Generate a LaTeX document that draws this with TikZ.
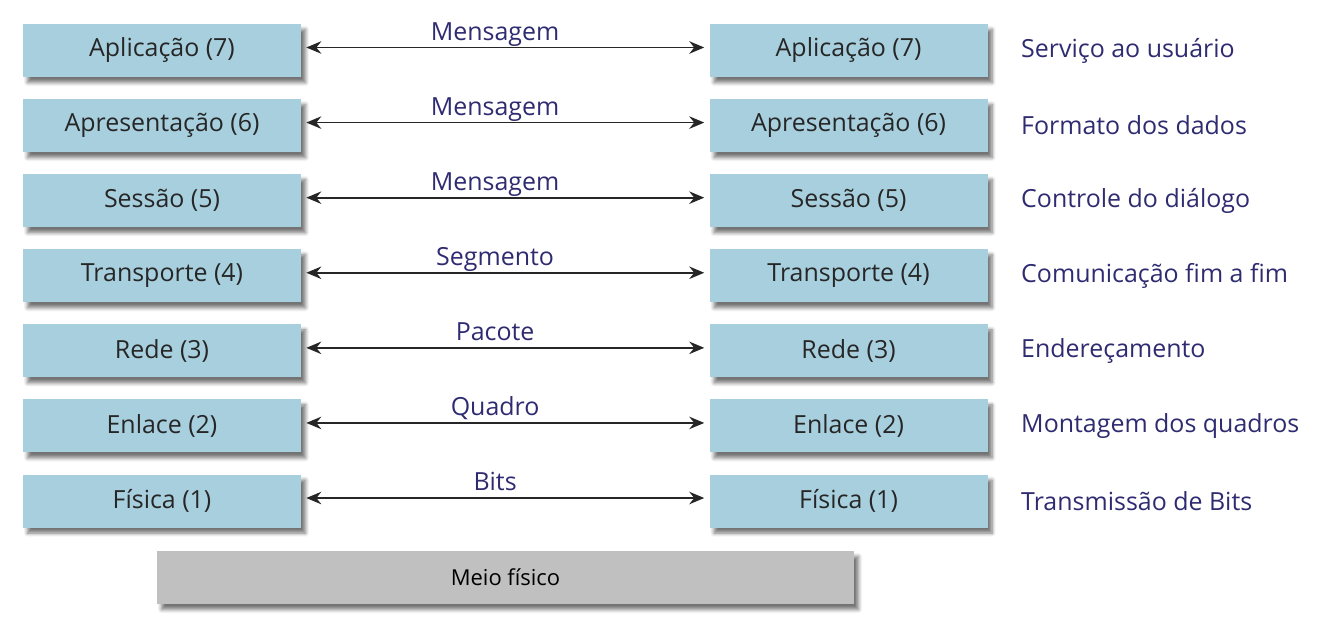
\documentclass[tikz,border=0pt]{standalone}
\usepackage{fontspec}
\setmainfont{Open Sans}
\usetikzlibrary{arrows.meta}
\usetikzlibrary{positioning}
\usetikzlibrary{shadows.blur}
\definecolor{layerblue}{RGB}{168,207,222}
\definecolor{labelblue}{RGB}{46,43,112}
\definecolor{layertext}{RGB}{38,38,38}
\definecolor{meiogray}{RGB}{192,192,192}
\tikzset{
  layer/.style={
    fill=layerblue, text=layertext,
    minimum width=5.56cm, minimum height=1.06cm, inner sep=0,
    font=\fontsize{14.2}{16}\selectfont,
    blur shadow={shadow xshift=0.09cm, shadow yshift=-0.11cm,
      shadow opacity=55, shadow blur steps=6}
  },
  meio/.style={layer, fill=meiogray, text=black,
    minimum width=13.94cm, font=\fontsize{12.5}{14}\selectfont},
  role/.style={anchor=west, inner sep=0, text=labelblue,
    font=\fontsize{14.2}{16}\selectfont},
  pdu/.style={above, inner sep=1pt, pos=0.475, text=labelblue,
    text depth=0.25em, font=\fontsize{14.2}{16}\selectfont},
  arrow/.style={<->, >={Stealth[length=0.3cm, width=0.25cm, inset=0.1cm]},
    line width=1pt, draw=black!85, shorten >=1mm, shorten <=1mm},
  node distance=0.428cm
}
\begin{document}
\begin{tikzpicture}[x=0.02cm, y=-0.02cm]
  \useasboundingbox (0,0) rectangle (1319,638);

  % host A
  \node[layer] (apA) at (162,50.5) {Aplicação (7)};
  \node[layer, below=of apA] (prA) {Apresentação (6)};
  \node[layer, below=of prA] (seA) {Sessão (5)};
  \node[layer, below=of seA] (trA) {Transporte (4)};
  \node[layer, below=of trA] (reA) {Rede (3)};
  \node[layer, below=of reA] (enA) {Enlace (2)};
  \node[layer, below=of enA] (fiA) {Física (1)};

  % host B
  \node[layer, right=8.16cm of apA] (apB) {Aplicação (7)};
  \node[layer, right=8.16cm of prA] (prB) {Apresentação (6)};
  \node[layer, right=8.16cm of seA] (seB) {Sessão (5)};
  \node[layer, right=8.16cm of trA] (trB) {Transporte (4)};
  \node[layer, right=8.16cm of reA] (reB) {Rede (3)};
  \node[layer, right=8.16cm of enA] (enB) {Enlace (2)};
  \node[layer, right=8.16cm of fiA] (fiB) {Física (1)};

  % what each layer does
  \node[role, right=0.66cm of apB] (apR) {Serviço ao usuário};
  \node[role, right=0.66cm of prB] (prR) {Formato dos dados};
  \node[role, right=0.66cm of seB] (seR) {Controle do diálogo};
  \node[role, right=0.66cm of trB] (trR) {Comunicação fim a fim};
  \node[role, right=0.66cm of reB] (reR) {Endereçamento};
  \node[role, right=0.66cm of enB] (enR) {Montagem dos quadros};
  \node[role, right=0.66cm of fiB] (fiR) {Transmissão de Bits};

  \node[meio] (meio) at (505.5,577.5) {Meio físico};

  % peer to peer exchange
  \draw[arrow] ([yshift=0.06cm]apA.east) -- node[pdu] {Mensagem} ([yshift=0.06cm]apB.west);
  \draw[arrow] ([yshift=0.06cm]prA.east) -- node[pdu] {Mensagem} ([yshift=0.06cm]prB.west);
  \draw[arrow] ([yshift=0.06cm]seA.east) -- node[pdu] {Mensagem} ([yshift=0.06cm]seB.west);
  \draw[arrow] ([yshift=0.06cm]trA.east) -- node[pdu] {Segmento} ([yshift=0.06cm]trB.west);
  \draw[arrow] ([yshift=0.06cm]reA.east) -- node[pdu] {Pacote} ([yshift=0.06cm]reB.west);
  \draw[arrow] ([yshift=0.06cm]enA.east) -- node[pdu] {Quadro} ([yshift=0.06cm]enB.west);
  \draw[arrow] ([yshift=0.06cm]fiA.east) -- node[pdu] {Bits} ([yshift=0.06cm]fiB.west);
\end{tikzpicture}
\end{document}
